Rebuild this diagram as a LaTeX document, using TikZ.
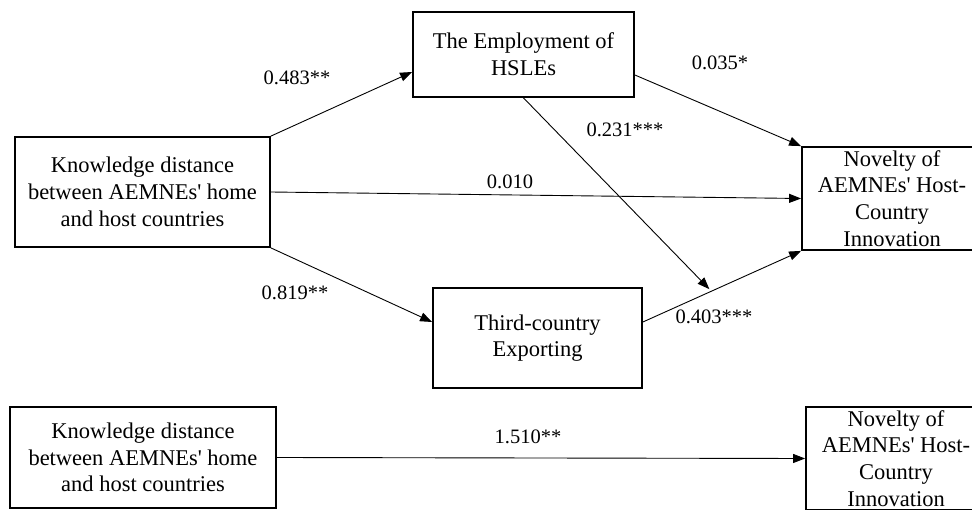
\documentclass[tikz,border=0pt]{standalone}
\usepackage{fontspec}
\setmainfont{Liberation Serif}
\usetikzlibrary{positioning, arrows.meta, calc}

\begin{document}
\begin{tikzpicture}[x=1pt, y=-1pt,
    varbox/.style={draw, line width=1.8pt, inner sep=0pt, align=center, font=\fontsize{22.5}{26.7}\selectfont},
    coef/.style={inner sep=0pt, font=\fontsize{20.5}{24}\selectfont},
    link/.style={-{Triangle[length=12pt, width=9pt]}, line width=0.9pt}]
    \useasboundingbox (0,0) rectangle (972,510);

    % model with mediators
    \node[varbox, minimum width=255pt, minimum height=110pt] (kd) at (142.5,192) {Knowledge distance\\ between AEMNEs\textquotesingle{} home\\ and host countries};
    \node[varbox, minimum width=221pt, minimum height=85pt] (hsle) at (523.5,54.5) {The Employment of\\ HSLEs};
    \node[varbox, minimum width=209pt, minimum height=100pt] (third) at (537.5,338) {Third-country\\ Exporting};
    \node[varbox, minimum width=180pt, minimum height=103pt] (nov) at (892,198.5) {Novelty of\\ AEMNEs\textquotesingle{} Host-\\ Country\\ Innovation};

    \draw[link] (kd.north east) -- ([yshift=-17.5pt]hsle.west);
    \draw[link] (kd.east) -- (nov.west);
    \draw[link] (kd.south east) -- ([yshift=16pt]third.west);
    \draw[link] ([yshift=-20.5pt]hsle.east) -- (nov.north west);
    \draw[link] ([yshift=16pt]third.east) -- (nov.south west);
    \coordinate (meet) at ($([yshift=16pt]third.east)!0.42!(nov.south west)$);
    \draw[link] (hsle.south) -- ([yshift=3pt]meet);

    \node[coef] (c1) at (297,78) {0.483**};
    \node[coef] (c2) at (720,63) {0.035*};
    \node[coef] (c3) at (625,130) {0.231***};
    \node[coef] (c4) at (510,182) {0.010};
    \node[coef] (c5) at (295,293) {0.819**};
    \node[coef] (c6) at (714,317) {0.403***};

    % total effect
    \node[varbox, minimum width=266pt, minimum height=101pt] (kd2) at (143,457.5) {Knowledge distance\\ between AEMNEs\textquotesingle{} home\\ and host countries};
    \node[varbox, minimum width=180pt, minimum height=103pt] (nov2) at (896,458.5) {Novelty of\\ AEMNEs\textquotesingle{} Host-\\ Country\\ Innovation};
    \draw[link] (kd2.east) -- (nov2.west);
    \node[coef] (c7) at (528,437) {1.510**};
\end{tikzpicture}
\end{document}
